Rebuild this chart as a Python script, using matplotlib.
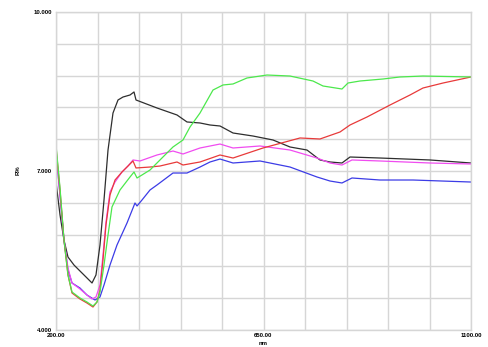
import numpy as np
import matplotlib
matplotlib.use('Agg')
import matplotlib.pyplot as plt

# reflectance curves (nm, R%)
black_nm = [200, 208.7, 217.3, 226.0, 239.0, 252.0, 265.1, 278.1, 286.7, 295.4, 304.1, 312.8,
            323.6, 334.5, 345.3, 360.5, 369.2, 373.5, 419.0, 462.4, 484.1, 512.3, 534.0, 555.7,
            583.9, 627.2, 670.6, 707.5, 744.3, 772.5, 794.2, 820.2, 837.6, 902.7, 1011.1, 1100]
black_r = [6.792, 6.170, 5.698, 5.377, 5.226, 5.113, 5.000, 4.887, 5.038, 5.604, 6.453, 7.396,
           8.094, 8.340, 8.396, 8.434, 8.491, 8.340, 8.189, 8.057, 7.925, 7.906, 7.868, 7.849,
           7.717, 7.660, 7.585, 7.453, 7.396, 7.208, 7.170, 7.151, 7.264, 7.245, 7.208, 7.151]

red_nm = [200, 208.7, 217.3, 226.0, 234.7, 252.0, 267.2, 280.2, 288.9, 295.4, 301.9, 308.4,
          317.1, 328.0, 343.1, 356.1, 367.0, 373.5, 403.9, 425.5, 462.4, 475.4, 512.3, 555.7,
          583.9, 648.9, 729.2, 772.5, 815.9, 837.6, 874.5, 924.3, 967.7, 995.9, 1039.3, 1100]
red_r = [7.453, 6.642, 5.698, 5.038, 4.698, 4.585, 4.509, 4.434, 4.528, 4.755, 5.321, 5.981,
         6.547, 6.830, 6.981, 7.094, 7.189, 7.057, 7.075, 7.094, 7.170, 7.113, 7.170, 7.302,
         7.245, 7.434, 7.623, 7.604, 7.736, 7.868, 8.019, 8.245, 8.434, 8.566, 8.660, 8.774]

green_nm = [200, 208.7, 217.3, 226.0, 234.7, 252.0, 267.2, 280.2, 288.9, 295.4, 304.1, 312.8,
            321.4, 338.8, 360.5, 369.2, 375.7, 386.5, 403.9, 425.5, 453.7, 475.4, 490.6, 512.3,
            540.5, 562.2, 583.9, 614.2, 657.6, 707.5, 757.3, 779.0, 820.2, 833.2, 859.2, 909.2,
            946.0, 995.9, 1100]
green_r = [7.491, 6.679, 5.698, 5.038, 4.717, 4.604, 4.528, 4.453, 4.528, 4.717, 5.226, 5.792,
           6.321, 6.642, 6.887, 6.981, 6.868, 6.925, 7.019, 7.208, 7.453, 7.585, 7.830, 8.094,
           8.528, 8.623, 8.642, 8.755, 8.811, 8.792, 8.698, 8.604, 8.547, 8.660, 8.698, 8.736,
           8.774, 8.792, 8.774]

magenta_nm = [200, 208.7, 217.3, 226.0, 234.7, 252.0, 267.2, 278.1, 286.7, 295.4, 301.9, 308.4,
              317.1, 328.0, 343.1, 356.1, 367.0, 382.2, 419.0, 453.7, 475.4, 512.3, 555.7, 583.9,
              642.4, 707.5, 766.0, 794.2, 820.2, 841.9, 902.7, 1011.1, 1100]
magenta_r = [7.396, 6.547, 5.698, 5.170, 4.887, 4.774, 4.660, 4.585, 4.623, 4.849, 5.415, 6.038,
             6.604, 6.792, 6.981, 7.094, 7.208, 7.189, 7.302, 7.377, 7.321, 7.434, 7.509, 7.434,
             7.472, 7.396, 7.245, 7.151, 7.113, 7.208, 7.189, 7.151, 7.132]

blue_nm = [200, 208.7, 217.3, 226.0, 234.7, 252.0, 267.2, 284.6, 295.4, 304.1, 317.1, 332.3,
           354.0, 371.3, 375.7, 386.5, 403.9, 419.0, 453.7, 484.1, 512.3, 534.0, 555.7, 583.9,
           642.4, 707.5, 766.0, 794.2, 820.2, 841.9, 902.7, 974.2, 1100]
blue_r = [7.358, 6.547, 5.698, 5.132, 4.887, 4.792, 4.660, 4.566, 4.623, 4.849, 5.226, 5.604,
          6.019, 6.396, 6.340, 6.453, 6.642, 6.736, 6.962, 6.962, 7.075, 7.170, 7.226, 7.151,
          7.189, 7.075, 6.887, 6.811, 6.774, 6.868, 6.830, 6.830, 6.792]

x_labels = {200: '200.00', 650: '650.00', 1100: '1100.00'}
y_labels = {4.0: '4.000', 7.0: '7.000', 10.0: '10.000'}

plt.rcParams['font.family'] = ['Liberation Sans', 'DejaVu Sans']

fig = plt.figure(figsize=(4.88, 3.47), dpi=100)
ax = fig.add_axes([56 / 488, 17 / 347, 415 / 488, 318 / 347])

grid_col = '#d6d6d6'
ax.plot(black_nm, black_r, color='#2e2e2e', lw=0.9)
ax.plot(blue_nm, blue_r, color='#3c3ce6', lw=0.9)
ax.plot(magenta_nm, magenta_r, color='#f04cf0', lw=0.9)
ax.plot(red_nm, red_r, color='#e83a3a', lw=0.9)
ax.plot(green_nm, green_r, color='#4ce84c', lw=0.9)

ax.set_xlim(200, 1100)
ax.set_ylim(4, 10)
xt = np.linspace(200, 1100, 11)
yt = np.linspace(4, 10, 11)
ax.set_xticks(xt)
ax.set_yticks(yt)
ax.set_xticklabels([x_labels.get(int(round(v)), '') for v in xt])
ax.set_yticklabels([y_labels.get(round(v, 1), '') for v in yt])
ax.tick_params(length=0, labelsize=4.3)
ax.tick_params(axis='x', pad=2)
ax.tick_params(axis='y', pad=3)
for lab in ax.get_xticklabels() + ax.get_yticklabels():
    lab.set_fontweight('bold')
ax.grid(True, color=grid_col, lw=1.0)
ax.set_axisbelow(True)
for sp in ax.spines.values():
    sp.set_color(grid_col)
    sp.set_linewidth(1.0)

ax.text(-0.0916, 0.503, 'R%', transform=ax.transAxes, rotation=90,
        ha='center', va='center', fontsize=4.3, fontweight='bold')
fig.text(263.5 / 488, 0.004, 'nm', ha='center', va='bottom',
         fontsize=4.3, fontweight='bold')

fig.savefig('out.png', dpi=100)
